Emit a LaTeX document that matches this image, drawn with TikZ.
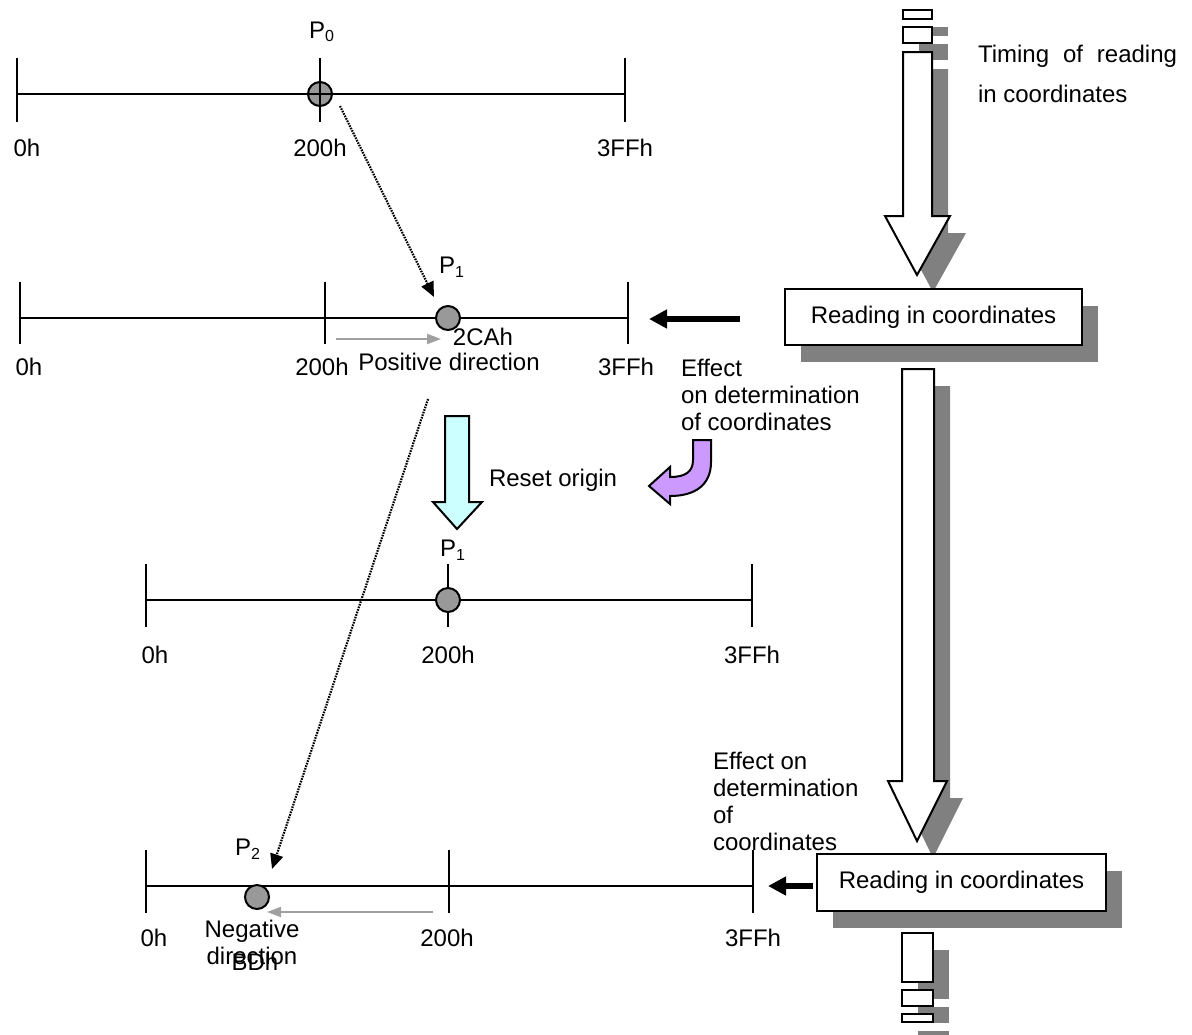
\documentclass[tikz,border=0pt]{standalone}
\usepackage{fontspec}
\setmainfont{Liberation Sans}
\usetikzlibrary{arrows.meta,shadows}
\definecolor{ptgray}{HTML}{999999}
\definecolor{shadowgray}{HTML}{808080}
\definecolor{dirgray}{HTML}{A0A0A0}
\definecolor{resetcyan}{HTML}{CCFFFF}
\definecolor{effectpurple}{HTML}{CC99FF}
\begin{document}
\begin{tikzpicture}[x=0.5pt,y=-0.5pt,
  every node/.style={inner sep=0pt,outer sep=0pt},
  lbl/.style={font=\fontsize{12}{13.5}\selectfont},
  axis/.style={line width=1pt},
  pt/.style={circle,draw,line width=1pt,fill=ptgray,minimum size=12pt},
  dotarrow/.style={line width=1.1pt,dash pattern=on 0.8pt off 0.55pt,
    -{Triangle[length=7.5pt,width=6.5pt]}},
  dirarrow/.style={draw=dirgray,line width=1pt,
    -{Triangle[length=7pt,width=5pt]}},
  effarrow/.style={line width=3pt,-{Triangle[length=9pt,width=9pt]}},
  shad/.style={drop shadow={shadow xshift=8pt,shadow yshift=-8.5pt,
    fill=shadowgray,opacity=1}},
  flowbox/.style={draw,line width=1pt,fill=white,shad,lbl},
  flowshape/.style={draw,line width=1pt,fill=white,shad},
]
\useasboundingbox (0,0) rectangle (1192,1034);

% ---------- number line 1 (P0 at 200h) ----------
\node[pt] (p0c) at (320,94) {};
\draw[axis] (17,94) -- (625,94);
\foreach \x in {17,320,625} \draw[axis] (\x,58) -- (\x,122);
\node[lbl] (p0l) at (322,32) {P\textsubscript{0}};
\node[lbl] (l10) at (27,148) {0h};
\node[lbl] (l11) at (320,148) {200h};
\node[lbl] (l12) at (625,148) {3FFh};

% ---------- number line 2 (P1 read at 2CAh) ----------
\draw[axis] (20,318) -- (628,318);
\foreach \x in {20,325,628} \draw[axis] (\x,282) -- (\x,344);
\node[pt] (p1c) at (448,318) {};
\node[lbl] (p1l) at (452,267) {P\textsubscript{1}};
\node[lbl] (l20) at (29,367) {0h};
\node[lbl] (l21) at (322,367) {200h};
\node[lbl] (l22) at (626,367) {3FFh};
\node[lbl] (cah) at (483,337) {2CAh};
\node[lbl] (pos) at (449,362) {Positive direction};
\coordinate (posA) at (336,339);
\coordinate (posB) at (441,339);
\draw[dirarrow] (posA) -- (posB);

% ---------- number line 3 (origin reset to P1) ----------
\draw[axis] (146,600) -- (752,600);
\foreach \x in {146,448,752} \draw[axis] (\x,564) -- (\x,627);
\node[pt] (p1r) at (448,600) {};
\node[lbl] (p1rl) at (453,550) {P\textsubscript{1}};
\node[lbl] (l30) at (155,655) {0h};
\node[lbl] (l31) at (448,655) {200h};
\node[lbl] (l32) at (752,655) {3FFh};

% ---------- number line 4 (P2 read at BDh) ----------
\draw[axis] (146,886) -- (753,886);
\foreach \x in {146,449,753} \draw[axis] (\x,850) -- (\x,913);
\node[pt] (p2c) at (257,897) {};
\node[lbl] (p2l) at (248,849) {P\textsubscript{2}};
\node[lbl] (l40) at (154,938) {0h};
\node[lbl] (l41) at (447,938) {200h};
\node[lbl] (l42) at (753,938) {3FFh};
% the base anchor of a multi-line node sits on its last line
\node[lbl,align=center,anchor=base] (neg) at (252,964.5) {Negative\\direction};
\node[lbl] (bdh) at (255,962) {BDh};
\coordinate (negA) at (433,912);
\coordinate (negB) at (267,912);
\draw[dirarrow] (negA) -- (negB);

% ---------- movement of the point between readings ----------
\draw[dotarrow] ([shift={(20,12)}]p0c.center) -- ([shift={(-14,-21)}]p1c.center);
\draw[dotarrow] ([shift={(-20,81)}]p1c.center) -- ([shift={(15,-28)}]p2c.center);

% ---------- reset origin arrow ----------
\draw[line width=1pt,fill=resetcyan]
  (445,416) -- (469,416) -- (469,502) -- (482,502) -- (457,529)
  -- (433,502) -- (445,502) -- cycle;
\node[lbl,anchor=west] (reset) at (489,480) {Reset origin};

% ---------- curved effect arrow ----------
\draw[line width=1pt,fill=effectpurple]
  (693,440) -- (711,440) -- (711,462)
  .. controls (711,485) and (695,496) .. (670,496)
  -- (670,504) -- (649,486) -- (670,467) -- (670,477)
  .. controls (685,477) and (693,472) .. (693,460) -- cycle;

% ---------- timing column ----------
\path[flowshape] (903,10) rectangle (932,19);
\path[flowshape] (903,27) rectangle (932,43);
\path[flowshape] (903,52) -- (932,52) -- (932,216) -- (950,216) -- (917,275)
  -- (885,216) -- (903,216) -- cycle;
\node[flowbox,minimum width=148.5pt,minimum height=28pt] (rb1) at (933.5,317)
  {Reading in coordinates};
\path[flowshape] (902,369) -- (934,369) -- (934,781) -- (947,781) -- (917,841)
  -- (888,781) -- (902,781) -- cycle;
\node[flowbox,minimum width=144.5pt,minimum height=28.5pt] (rb2) at (961.5,882.5)
  {Reading in coordinates};
\path[flowshape] (902,933) rectangle (933,982);
\path[flowshape] (902,990) rectangle (933,1006);
\path[flowshape] (902,1014) rectangle (933,1022);

\node[lbl,anchor=base west] (tim1) at (978,62)
  {\makebox[99.5pt][s]{Timing of reading}};
\node[lbl,anchor=base west] (tim2) at (978,102) {in coordinates};

% ---------- effect of each reading on the number line ----------
\coordinate (e1s) at (740,319);
\coordinate (e1t) at (649,319);
\draw[effarrow] (e1s) -- (e1t);
\node[lbl,align=left,anchor=base west] (eff1) at (681,430.5)
  {Effect\\on determination\\of coordinates};

\coordinate (e2s) at (813,886);
\coordinate (e2t) at (768,886);
\draw[effarrow] (e2s) -- (e2t);
\node[lbl,align=left,anchor=base west] (eff2) at (713,850.5)
  {Effect on\\determination\\of\\coordinates};
\end{tikzpicture}
\end{document}
